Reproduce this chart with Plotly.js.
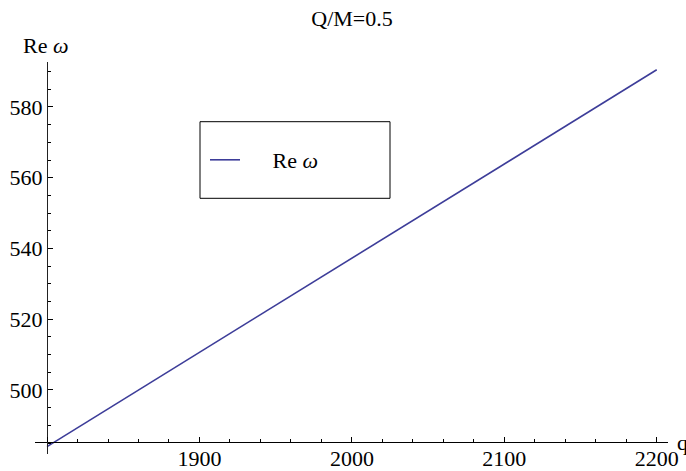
<!DOCTYPE html>
<html>
<head>
<meta charset="utf-8">
<script src="https://cdn.plot.ly/plotly-3.0.1.min.js"></script>
<style>html,body{margin:0;padding:0;background:#fff;}#chart{width:686px;height:471px;}</style>
</head>
<body>
<div id="chart"></div>
<script>
var qValues = [1800, 1900, 2000, 2100, 2200];
var reOmega = [484.0, 510.6, 537.3, 563.9, 590.5];
var xTickVals = [1800, 1900, 2000, 2100, 2200];
var xTickText = ['', '1900', '2000', '2100', '2200'];
var yTickVals = [500, 520, 540, 560, 580];
var yTickText = ['500', '520', '540', '560', '580'];

var serif = 'Liberation Serif, Times New Roman, serif';
var W = 686, H = 471, L = 35, R = 18, T = 62, B = 17;
var pw = W - L - R, ph = H - T - B;
function px(x) { return (x - L) / pw; }
function py(y) { return (H - B - y) / ph; }
var nb = '\u00a0\u00a0\u00a0\u00a0\u00a0';

var trace = {
  x: qValues, y: reOmega, type: 'scatter', mode: 'lines',
  name: nb + 'Re <i>ω</i>',
  line: {color: '#3d3d99', width: 1.6}
};

var layout = {
  width: W, height: H,
  margin: {l: L, r: R, t: T, b: B, pad: 0},
  paper_bgcolor: '#fff', plot_bgcolor: '#fff',
  font: {family: serif, size: 22, color: '#000'},
  title: {text: 'Q/M=0.5', font: {family: serif, size: 22, color: '#000'},
          xref: 'container', yref: 'container', x: 352 / W, y: 1 - 18 / H,
          xanchor: 'center', yanchor: 'middle'},
  xaxis: {
    range: [1792.1, 2207.4], anchor: 'free', position: py(442),
    showline: true, linecolor: '#000', linewidth: 1,
    showgrid: false, zeroline: false,
    ticks: 'inside', ticklen: 5, tickwidth: 1, tickcolor: '#000',
    tickmode: 'array', tickvals: xTickVals, ticktext: xTickText,
    ticklabelstandoff: -3,
    tickfont: {family: serif, size: 22, color: '#000'},
    minor: {tickmode: 'linear', tick0: 1800, dtick: 20, ticks: 'inside', ticklen: 3, tickwidth: 1, tickcolor: '#000', showgrid: false}
  },
  yaxis: {
    range: [481.9, 592.7], anchor: 'free', position: px(47),
    showline: true, linecolor: '#222', linewidth: 1,
    showgrid: false, zeroline: false,
    ticks: 'inside', ticklen: 5, tickwidth: 1, tickcolor: '#000',
    tickmode: 'array', tickvals: yTickVals, ticktext: yTickText,
    tickfont: {family: serif, size: 22, color: '#000'},
    minor: {tickmode: 'linear', tick0: 480, dtick: 5, ticks: 'inside', ticklen: 3, tickwidth: 1, tickcolor: '#000', showgrid: false}
  },
  showlegend: true,
  legend: {
    x: px(205), y: py(160), xanchor: 'left', yanchor: 'middle',
    bgcolor: 'rgba(0,0,0,0)', borderwidth: 0,
    font: {family: serif, size: 22, color: '#000'},
    itemwidth: 30
  },
  shapes: [{
    type: 'rect', xref: 'paper', yref: 'paper',
    x0: px(200), x1: px(390), y0: py(198.3), y1: py(121.7),
    line: {color: '#000', width: 1}, fillcolor: 'rgba(0,0,0,0)', layer: 'above'
  }],
  annotations: [
    {text: 'Re <i>ω</i>', xref: 'paper', yref: 'paper', x: px(46), y: py(45),
     xanchor: 'center', yanchor: 'middle', showarrow: false,
     font: {family: serif, size: 22, color: '#000'}},
    {text: 'q', xref: 'paper', yref: 'paper', x: px(675), y: py(442),
     xanchor: 'left', yanchor: 'middle', showarrow: false,
     font: {family: serif, size: 22, color: '#000'}}
  ]
};

Plotly.newPlot('chart', [trace], layout, {staticPlot: true, displayModeBar: false});
</script>
</body>
</html>
